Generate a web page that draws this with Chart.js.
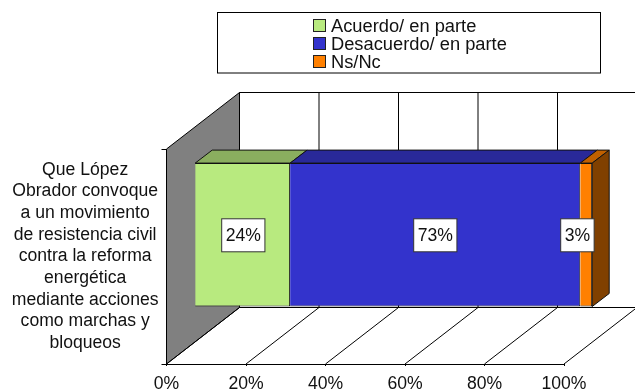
<!DOCTYPE html>
<html>
<head>
<meta charset="utf-8">
<style>
    html, body { margin: 0; padding: 0; background: #fff; }
    canvas { display: block; }
</style>
<script src="https://cdn.jsdelivr.net/npm/chart.js@4"></script>
</head>
<body>
<canvas id="chart" width="635" height="391"></canvas>
<script>
const categories = [[
    'Que López', 'Obrador convoque', 'a un movimiento', 'de resistencia civil',
    'contra la reforma', 'energética', 'mediante acciones', 'como marchas y', 'bloqueos'
]];
const seriesNames = ['Acuerdo/ en parte', 'Desacuerdo/ en parte', 'Ns/Nc'];
const acuerdo = [24];
const desacuerdo = [73];
const nsNc = [3];
const xTicks = ['0%', '20%', '40%', '60%', '80%', '100%'];

// colours: front, top and side faces of each series
const frontColors = ['#B8EA7F', '#3333CC', '#FF8000'];
const topColors = ['#8AAE5F', '#292999', '#C06000'];
const sideColors = ['#6E8C4C', '#1F1F73', '#804000'];

const FONT = '"Liberation Sans", Arial, sans-serif';

// depth of the fake 3D box and of the bars inside it
const wallDX = 73, wallDY = -56.5;
const barShiftX = 28.2, barShiftY = -21.7;
const barDX = 17, barDY = -13;

function line(ctx, x1, y1, x2, y2) {
    ctx.beginPath();
    ctx.moveTo(x1, y1);
    ctx.lineTo(x2, y2);
    ctx.stroke();
}

function poly(ctx, pts, fill) {
    ctx.beginPath();
    ctx.moveTo(pts[0][0], pts[0][1]);
    for (let i = 1; i < pts.length; i++) ctx.lineTo(pts[i][0], pts[i][1]);
    ctx.closePath();
    ctx.fillStyle = fill;
    ctx.fill();
    ctx.stroke();
}

const box3d = {
    id: 'box3d',
    // grey side wall, floor and back wall go under everything
    beforeDraw(chart) {
        const ctx = chart.ctx, a = chart.chartArea, xs = chart.scales.x;
        ctx.save();
        ctx.strokeStyle = '#000';
        ctx.lineWidth = 1;
        poly(ctx, [[a.left, a.top], [a.left + wallDX, a.top + wallDY],
            [a.left + wallDX, a.bottom + wallDY], [a.left, a.bottom]], '#808080');
        const x100 = xs.getPixelForValue(100);
        line(ctx, a.left + wallDX, a.top + wallDY, x100 + wallDX, a.top + wallDY);
        line(ctx, a.left + wallDX, a.bottom + wallDY, x100 + wallDX, a.bottom + wallDY);
        xTicks.forEach(function(t, i) {
            const x = xs.getPixelForValue(i * 20);
            line(ctx, x, a.bottom, x + wallDX, a.bottom + wallDY);
            line(ctx, x + wallDX, a.top + wallDY, x + wallDX, a.bottom + wallDY);
        });
        ctx.restore();
    },
    beforeDatasetsDraw(chart) {
        chart.ctx.save();
        chart.ctx.translate(barShiftX, barShiftY);
    },
    afterDatasetsDraw(chart) {
        const ctx = chart.ctx;
        ctx.strokeStyle = '#111';
        ctx.lineWidth = 1;
        chart.data.datasets.forEach(function(ds, i) {
            const bar = chart.getDatasetMeta(i).data[0];
            const top = bar.y - bar.height / 2, bottom = bar.y + bar.height / 2;
            poly(ctx, [[bar.base, top], [bar.base + barDX, top + barDY],
                [bar.x + barDX, top + barDY], [bar.x, top]], topColors[i]);
            if (i === chart.data.datasets.length - 1) {
                poly(ctx, [[bar.x, top], [bar.x + barDX, top + barDY],
                    [bar.x + barDX, bottom + barDY], [bar.x, bottom]], sideColors[i]);
            }
        });
        // value boxes, kept inside the end of the bar
        ctx.font = '17.6px ' + FONT;
        ctx.textAlign = 'center';
        ctx.textBaseline = 'middle';
        const lastBar = chart.getDatasetMeta(chart.data.datasets.length - 1).data[0];
        chart.data.datasets.forEach(function(ds, i) {
            const bar = chart.getDatasetMeta(i).data[0];
            const label = ds.data[0] + '%';
            const w = ctx.measureText(label).width + 8;
            const h = 33;
            let cx = (bar.base + bar.x) / 2;
            if (cx + w / 2 > lastBar.x + 1) cx = lastBar.x + 1 - w / 2;
            const bx = Math.round(cx - w / 2) + 0.5, by = Math.round(bar.y - h / 2) + 0.5;
            ctx.fillStyle = '#fff';
            ctx.strokeStyle = '#333';
            ctx.fillRect(bx, by, w, h);
            ctx.strokeRect(bx, by, w, h);
            ctx.fillStyle = '#111';
            ctx.fillText(label, bx + w / 2, by + h / 2 + 1);
        });
        ctx.restore();
    },
    // legend box at the top
    afterDraw(chart) {
        const ctx = chart.ctx;
        ctx.save();
        ctx.strokeStyle = '#000';
        ctx.lineWidth = 1;
        ctx.fillStyle = '#fff';
        ctx.fillRect(217.5, 12.5, 383, 60.5);
        ctx.strokeRect(217.5, 12.5, 383, 60.5);
        ctx.font = '18.3px ' + FONT;
        ctx.textAlign = 'left';
        ctx.textBaseline = 'middle';
        chart.data.datasets.forEach(function(ds, i) {
            const y = 26 + i * 18;
            ctx.fillStyle = frontColors[i];
            ctx.strokeStyle = '#222';
            ctx.fillRect(313.5, y - 6.5, 12, 12);
            ctx.strokeRect(313.5, y - 6.5, 12, 12);
            ctx.fillStyle = '#111';
            ctx.fillText(ds.label, 331, y + 0.5);
        });
        ctx.restore();
    }
};

const values = [acuerdo, desacuerdo, nsNc];

new Chart(document.getElementById('chart').getContext('2d'), {
    type: 'bar',
    data: {
        labels: categories,
        datasets: seriesNames.map(function(name, i) {
            return {
                label: name,
                data: values[i],
                backgroundColor: frontColors[i],
                borderColor: '#111',
                borderWidth: 1,
                barPercentage: 0.667,
                categoryPercentage: 1,
                clip: false
            };
        })
    },
    options: {
        indexAxis: 'y',
        responsive: false,
        animation: false,
        layout: { padding: { top: 149, right: 71, bottom: 0, left: 0 } },
        plugins: {
            legend: { display: false },
            tooltip: { enabled: false }
        },
        scales: {
            x: {
                stacked: true,
                min: 0,
                max: 100,
                afterFit: function(scale) { scale.height = 27; },
                grid: { drawOnChartArea: false, tickLength: 2, color: '#000' },
                border: { color: '#000' },
                ticks: {
                    stepSize: 20,
                    padding: 8,
                    maxRotation: 0,
                    color: '#111',
                    font: { family: FONT, size: 17.6 },
                    callback: function(value) { return xTicks[value / 20]; }
                }
            },
            y: {
                stacked: true,
                afterFit: function(scale) {
                    scale.width = 166.5;
                    scale.paddingTop = 0;
                    scale.paddingBottom = 0;
                },
                grid: { drawOnChartArea: false, tickLength: 5, color: '#000' },
                border: { color: '#000' },
                ticks: {
                    crossAlign: 'center',
                    padding: 3,
                    color: '#111',
                    font: { family: FONT, size: 17.6, lineHeight: 1.231 }
                }
            }
        }
    },
    plugins: [box3d]
});
</script>
</body>
</html>
